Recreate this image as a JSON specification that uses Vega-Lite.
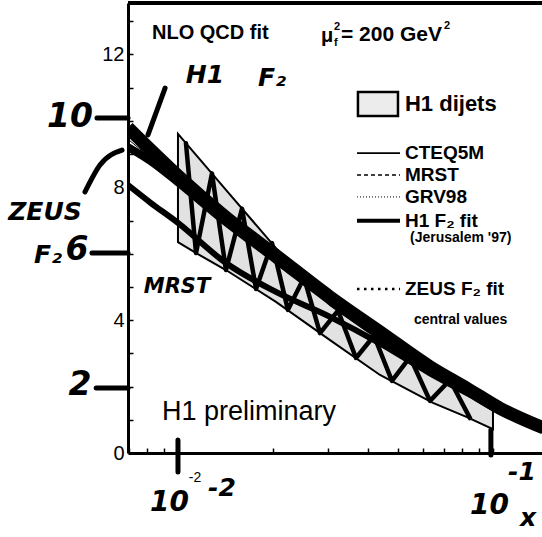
{
  "$schema": "https://vega.github.io/schema/vega-lite/v6.json",
  "width": 414,
  "height": 450,
  "autosize": "none",
  "padding": {"left": 128, "top": 3, "right": 0, "bottom": 84},
  "background": "white",
  "config": {"view": {"stroke": null}, "font": "Liberation Sans"},
  "datasets": {
    "curves": [
      {"series": "H1 F2 fit", "x": 0.00694, "y": 9.80}, {"series": "H1 F2 fit", "x": 0.00815, "y": 9.15}, {"series": "H1 F2 fit", "x": 0.01, "y": 8.35}, {"series": "H1 F2 fit", "x": 0.0142, "y": 7.10}, {"series": "H1 F2 fit", "x": 0.02047, "y": 5.95}, {"series": "H1 F2 fit", "x": 0.03039, "y": 4.70}, {"series": "H1 F2 fit", "x": 0.04379, "y": 3.65}, {"series": "H1 F2 fit", "x": 0.0631, "y": 2.60}, {"series": "H1 F2 fit", "x": 0.08267, "y": 1.95}, {"series": "H1 F2 fit", "x": 0.1052, "y": 1.35}, {"series": "H1 F2 fit", "x": 0.145, "y": 0.75},
      {"series": "ZEUS F2 fit", "x": 0.00694, "y": 9.21}, {"series": "ZEUS F2 fit", "x": 0.00815, "y": 8.80}, {"series": "ZEUS F2 fit", "x": 0.01, "y": 8.15}, {"series": "ZEUS F2 fit", "x": 0.0142, "y": 6.95}, {"series": "ZEUS F2 fit", "x": 0.02047, "y": 5.82}, {"series": "ZEUS F2 fit", "x": 0.03039, "y": 4.58}, {"series": "ZEUS F2 fit", "x": 0.04379, "y": 3.53}, {"series": "ZEUS F2 fit", "x": 0.0631, "y": 2.52}, {"series": "ZEUS F2 fit", "x": 0.08267, "y": 1.88}, {"series": "ZEUS F2 fit", "x": 0.1052, "y": 1.30}, {"series": "ZEUS F2 fit", "x": 0.145, "y": 0.70},
      {"series": "MRS lower", "x": 0.00694, "y": 8.07}, {"series": "MRS lower", "x": 0.00815, "y": 7.55}, {"series": "MRS lower", "x": 0.01, "y": 6.93}, {"series": "MRS lower", "x": 0.0142, "y": 5.72}, {"series": "MRS lower", "x": 0.02047, "y": 4.85}, {"series": "MRS lower", "x": 0.03039, "y": 4.10}, {"series": "MRS lower", "x": 0.04379, "y": 3.30}, {"series": "MRS lower", "x": 0.0631, "y": 2.40}, {"series": "MRS lower", "x": 0.08267, "y": 1.80}, {"series": "MRS lower", "x": 0.1052, "y": 1.25}, {"series": "MRS lower", "x": 0.145, "y": 0.68},
      {"series": "CTEQ5M", "x": 0.00694, "y": 9.60}, {"series": "CTEQ5M", "x": 0.00815, "y": 9.00}, {"series": "CTEQ5M", "x": 0.01, "y": 8.25}, {"series": "CTEQ5M", "x": 0.0142, "y": 7.00}, {"series": "CTEQ5M", "x": 0.02047, "y": 5.85}, {"series": "CTEQ5M", "x": 0.03039, "y": 4.62}, {"series": "CTEQ5M", "x": 0.04379, "y": 3.58}, {"series": "CTEQ5M", "x": 0.0631, "y": 2.55}, {"series": "CTEQ5M", "x": 0.08267, "y": 1.90}, {"series": "CTEQ5M", "x": 0.1052, "y": 1.32}, {"series": "CTEQ5M", "x": 0.145, "y": 0.72},
      {"series": "MRST", "x": 0.00694, "y": 9.70}, {"series": "MRST", "x": 0.00815, "y": 9.05}, {"series": "MRST", "x": 0.01, "y": 8.30}, {"series": "MRST", "x": 0.0142, "y": 7.05}, {"series": "MRST", "x": 0.02047, "y": 5.90}, {"series": "MRST", "x": 0.03039, "y": 4.66}, {"series": "MRST", "x": 0.04379, "y": 3.60}, {"series": "MRST", "x": 0.0631, "y": 2.57}, {"series": "MRST", "x": 0.08267, "y": 1.92}, {"series": "MRST", "x": 0.1052, "y": 1.33}, {"series": "MRST", "x": 0.145, "y": 0.73},
      {"series": "GRV98", "x": 0.00694, "y": 9.45}, {"series": "GRV98", "x": 0.00815, "y": 8.90}, {"series": "GRV98", "x": 0.01, "y": 8.20}, {"series": "GRV98", "x": 0.0142, "y": 6.98}, {"series": "GRV98", "x": 0.02047, "y": 5.80}, {"series": "GRV98", "x": 0.03039, "y": 4.55}, {"series": "GRV98", "x": 0.04379, "y": 3.50}, {"series": "GRV98", "x": 0.0631, "y": 2.50}, {"series": "GRV98", "x": 0.08267, "y": 1.86}, {"series": "GRV98", "x": 0.1052, "y": 1.28}, {"series": "GRV98", "x": 0.145, "y": 0.69}
    ],
    "dijets": [
      {"x": 0.01, "y": 9.61, "y2": 6.35},
      {"x": 0.01157, "y": 8.91, "y2": 5.99},
      {"x": 0.0142, "y": 7.92, "y2": 5.51},
      {"x": 0.02047, "y": 6.17, "y2": 4.55},
      {"x": 0.03039, "y": 4.46, "y2": 3.40},
      {"x": 0.04379, "y": 3.40, "y2": 2.35},
      {"x": 0.06449, "y": 2.50, "y2": 1.51},
      {"x": 0.08267, "y": 1.90, "y2": 1.08},
      {"x": 0.1, "y": 1.45, "y2": 0.72}
    ],
    "hatch": [
      {"x": 0.0106, "y": 9.33}, {"x": 0.01141, "y": 6.02}, {"x": 0.01282, "y": 8.42}, {"x": 0.0142, "y": 5.51},
      {"x": 0.01597, "y": 7.36}, {"x": 0.01769, "y": 4.94}, {"x": 0.01988, "y": 6.32}, {"x": 0.02234, "y": 4.31},
      {"x": 0.02512, "y": 5.28}, {"x": 0.02824, "y": 3.61}, {"x": 0.03221, "y": 4.29}, {"x": 0.03674, "y": 2.86},
      {"x": 0.04191, "y": 3.53}, {"x": 0.04778, "y": 2.17}, {"x": 0.05452, "y": 2.89}, {"x": 0.0631, "y": 1.57},
      {"x": 0.07302, "y": 2.2}, {"x": 0.08453, "y": 1.05}
    ],
    "frame": [{"x": 0.00694, "x2": 0.1431, "y": 13.55}],
    "legendlines": [
      {"series": "CTEQ5M", "x": 0.03701, "y": 9.03}, {"series": "CTEQ5M", "x": 0.05069, "y": 9.03},
      {"series": "MRST", "x": 0.03701, "y": 8.37}, {"series": "MRST", "x": 0.05069, "y": 8.37},
      {"series": "GRV98", "x": 0.03701, "y": 7.71}, {"series": "GRV98", "x": 0.05069, "y": 7.71},
      {"series": "H1 F2 fit", "x": 0.03701, "y": 6.99}, {"series": "H1 F2 fit", "x": 0.05069, "y": 6.99},
      {"series": "ZEUS F2 fit", "x": 0.03701, "y": 4.94}, {"series": "ZEUS F2 fit", "x": 0.05069, "y": 4.94}
    ],
    "legendbox": [{"x": 0.03727, "x2": 0.04994, "y": 10.87, "y2": 10.15}],
    "arrows": [
      {"id": "a10", "x": 0.005532, "y": 10.09}, {"id": "a10", "x": 0.00694, "y": 10.09},
      {"id": "a6", "x": 0.005333, "y": 6.02}, {"id": "a6", "x": 0.00694, "y": 6.02},
      {"id": "a2", "x": 0.0055, "y": 1.96}, {"id": "a2", "x": 0.00694, "y": 1.96},
      {"id": "zeus", "x": 0.005068, "y": 7.86}, {"id": "zeus", "x": 0.005655, "y": 8.67}, {"id": "zeus", "x": 0.006643, "y": 9.12},
      {"id": "h1", "x": 0.00803, "y": 9.58}, {"id": "h1", "x": 0.0091, "y": 10.99},
      {"id": "t1", "x": 0.01, "y": 0.39}, {"id": "t1", "x": 0.010001, "y": -0.57},
      {"id": "t2", "x": 0.0985, "y": 0.69}, {"id": "t2", "x": 0.098501, "y": -0.06}
    ],
    "labels": [
      {"kind": "header", "text": "NLO QCD fit", "x": 0.00827, "y": 12.65},
      {"kind": "header", "text": "μ", "x": 0.02844, "y": 12.55},
      {"kind": "header2", "text": "= 200 GeV", "x": 0.03293, "y": 12.59},
      {"kind": "sup", "text": "2", "x": 0.03129, "y": 12.84},
      {"kind": "sup", "text": "f", "x": 0.03129, "y": 12.36},
      {"kind": "sup", "text": "2", "x": 0.0699, "y": 12.85},
      {"kind": "legendbig", "text": "H1 dijets", "x": 0.05256, "y": 10.51},
      {"kind": "legend", "text": "CTEQ5M", "x": 0.05256, "y": 9.03},
      {"kind": "legend", "text": "MRST", "x": 0.05256, "y": 8.37},
      {"kind": "legend", "text": "GRV98", "x": 0.05256, "y": 7.71},
      {"kind": "legend", "text": "H1  F₂ fit", "x": 0.05256, "y": 6.99},
      {"kind": "legend", "text": "ZEUS  F₂ fit", "x": 0.05256, "y": 4.94},
      {"kind": "small", "text": "(Jerusalem '97)", "x": 0.05452, "y": 6.47},
      {"kind": "small", "text": "central values", "x": 0.05613, "y": 4.0},
      {"kind": "prelim", "text": "H1 preliminary", "x": 0.0089, "y": 1.23},
      {"kind": "handbig", "text": "10", "x": 0.004541, "y": 10.12},
      {"kind": "handbig", "text": "6", "x": 0.004779, "y": 6.11},
      {"kind": "handbig", "text": "2", "x": 0.004885, "y": 2.05},
      {"kind": "handbottom", "text": "10", "x": 0.0094, "y": -1.5},
      {"kind": "handbottom", "text": "10", "x": 0.0975, "y": -1.6},
      {"kind": "handmid", "text": "ZEUS", "x": 0.003783, "y": 7.26},
      {"kind": "handmid", "text": "F₂", "x": 0.003867, "y": 5.96},
      {"kind": "handmid", "text": "H1", "x": 0.01218, "y": 11.38},
      {"kind": "handmid", "text": "F₂", "x": 0.01988, "y": 11.29},
      {"kind": "handsmall", "text": "MRST", "x": 0.00993, "y": 5.0},
      {"kind": "handmid", "text": "-2", "x": 0.01379, "y": -1.05},
      {"kind": "handmid", "text": "-1", "x": 0.1236, "y": -0.57},
      {"kind": "handmid", "text": "x", "x": 0.1292, "y": -1.96},
      {"kind": "tiny", "text": "-2", "x": 0.01132, "y": -0.75}
    ]
  },
  "encoding": {
    "x": {
      "field": "x", "type": "quantitative",
      "scale": {"type": "log", "domain": [0.00694, 0.1431], "nice": false},
      "axis": {
        "title": null, "labels": false, "grid": false,
        "values": [0.007, 0.008, 0.009, 0.01, 0.02, 0.03, 0.04, 0.05, 0.06, 0.07, 0.08, 0.09, 0.1],
        "tickSize": -5, "tickWidth": 1.5, "tickColor": "black",
        "domainColor": "black", "domainWidth": 3
      }
    },
    "y": {
      "field": "y", "type": "quantitative",
      "scale": {"domain": [0, 13.55], "nice": false, "zero": false},
      "axis": {
        "title": null, "grid": false, "format": "d",
        "values": [0, 0.5, 1, 1.5, 2, 2.5, 3, 3.5, 4, 4.5, 5, 5.5, 6, 6.5, 7, 7.5, 8, 8.5, 9, 9.5, 10, 10.5, 11, 11.5, 12, 12.5, 13, 13.5],
        "labelExpr": "datum.value % 4 === 0 ? format(datum.value, 'd') : ''",
        "tickSize": -5, "tickWidth": 1.5, "tickColor": "black",
        "domainColor": "black", "domainWidth": 3,
        "labelFont": "Liberation Sans", "labelFontSize": 20, "labelColor": "black", "labelPadding": 9
      }
    }
  },
  "layer": [
    {
      "data": {"name": "frame"},
      "mark": {"type": "rule", "color": "black", "strokeWidth": 4, "clip": false},
      "encoding": {"x2": {"field": "x2"}}
    },
    {
      "data": {"name": "dijets"},
      "mark": {"type": "area", "fill": "#e2e2e2", "stroke": "black", "strokeWidth": 2},
      "encoding": {"y2": {"field": "y2"}}
    },
    {
      "data": {"name": "curves"},
      "transform": [{"filter": "datum.series === 'MRS lower'"}],
      "mark": {"type": "line", "color": "black", "strokeWidth": 6, "interpolate": "monotone", "clip": true},
      "encoding": {}
    },
    {
      "data": {"name": "hatch"},
      "mark": {"type": "line", "color": "black", "strokeWidth": 4.5, "strokeJoin": "round", "strokeCap": "round"},
      "encoding": {}
    },
    {
      "data": {"name": "curves"},
      "transform": [{"filter": "datum.series === 'H1 F2 fit'"}],
      "mark": {"type": "line", "color": "black", "strokeWidth": 13, "interpolate": "monotone", "clip": true},
      "encoding": {}
    },
    {
      "data": {"name": "curves"},
      "transform": [{"filter": "datum.series === 'ZEUS F2 fit'"}],
      "mark": {"type": "line", "color": "black", "strokeWidth": 8, "interpolate": "monotone", "clip": true},
      "encoding": {}
    },
    {
      "data": {"name": "curves"},
      "transform": [{"filter": "datum.series === 'CTEQ5M' || datum.series === 'MRST' || datum.series === 'GRV98'"}],
      "mark": {"type": "line", "color": "black", "strokeWidth": 1, "interpolate": "monotone", "clip": true},
      "encoding": {"detail": {"field": "series"}}
    },
    {
      "data": {"name": "legendbox"},
      "mark": {"type": "rect", "fill": "#ececec", "stroke": "black", "strokeWidth": 2.5},
      "encoding": {"x2": {"field": "x2"}, "y2": {"field": "y2"}}
    },
    {
      "data": {"name": "legendlines"},
      "transform": [{"filter": "datum.series === 'CTEQ5M'"}],
      "mark": {"type": "line", "color": "black", "strokeWidth": 1.8},
      "encoding": {}
    },
    {
      "data": {"name": "legendlines"},
      "transform": [{"filter": "datum.series === 'MRST'"}],
      "mark": {"type": "line", "color": "black", "strokeWidth": 1.5, "strokeDash": [4, 3]},
      "encoding": {}
    },
    {
      "data": {"name": "legendlines"},
      "transform": [{"filter": "datum.series === 'GRV98'"}],
      "mark": {"type": "line", "color": "black", "strokeWidth": 1, "strokeDash": [1, 2]},
      "encoding": {}
    },
    {
      "data": {"name": "legendlines"},
      "transform": [{"filter": "datum.series === 'H1 F2 fit'"}],
      "mark": {"type": "line", "color": "black", "strokeWidth": 4},
      "encoding": {}
    },
    {
      "data": {"name": "legendlines"},
      "transform": [{"filter": "datum.series === 'ZEUS F2 fit'"}],
      "mark": {"type": "line", "color": "black", "strokeWidth": 2.5, "strokeDash": [2.5, 4.5]},
      "encoding": {}
    },
    {
      "data": {"name": "arrows"},
      "mark": {"type": "line", "color": "black", "strokeWidth": 5, "strokeCap": "round", "interpolate": "monotone", "clip": false},
      "encoding": {"detail": {"field": "id"}}
    },
    {
      "data": {"name": "labels"},
      "transform": [{"filter": "datum.kind === 'header'"}],
      "mark": {"type": "text", "font": "Liberation Sans", "fontWeight": "bold", "fontSize": 20, "align": "left", "baseline": "middle", "color": "black"},
      "encoding": {"text": {"field": "text"}}
    },
    {
      "data": {"name": "labels"},
      "transform": [{"filter": "datum.kind === 'header2'"}],
      "mark": {"type": "text", "font": "Liberation Sans", "fontWeight": "bold", "fontSize": 21, "align": "left", "baseline": "middle", "color": "black"},
      "encoding": {"text": {"field": "text"}}
    },
    {
      "data": {"name": "labels"},
      "transform": [{"filter": "datum.kind === 'sup'"}],
      "mark": {"type": "text", "font": "Liberation Sans", "fontWeight": "bold", "fontSize": 11, "align": "left", "baseline": "middle", "color": "black"},
      "encoding": {"text": {"field": "text"}}
    },
    {
      "data": {"name": "labels"},
      "transform": [{"filter": "datum.kind === 'legendbig'"}],
      "mark": {"type": "text", "font": "Liberation Sans", "fontWeight": "bold", "fontSize": 22, "align": "left", "baseline": "middle", "color": "black"},
      "encoding": {"text": {"field": "text"}}
    },
    {
      "data": {"name": "labels"},
      "transform": [{"filter": "datum.kind === 'legend'"}],
      "mark": {"type": "text", "font": "Liberation Sans", "fontWeight": "bold", "fontSize": 19, "align": "left", "baseline": "middle", "color": "black"},
      "encoding": {"text": {"field": "text"}}
    },
    {
      "data": {"name": "labels"},
      "transform": [{"filter": "datum.kind === 'small'"}],
      "mark": {"type": "text", "font": "Liberation Sans", "fontWeight": "bold", "fontSize": 14, "align": "left", "baseline": "middle", "color": "black"},
      "encoding": {"text": {"field": "text"}}
    },
    {
      "data": {"name": "labels"},
      "transform": [{"filter": "datum.kind === 'prelim'"}],
      "mark": {"type": "text", "font": "Liberation Sans", "fontSize": 27, "align": "left", "baseline": "middle", "color": "black"},
      "encoding": {"text": {"field": "text"}}
    },
    {
      "data": {"name": "labels"},
      "transform": [{"filter": "datum.kind === 'handbig'"}],
      "mark": {"type": "text", "font": "DejaVu Sans", "fontWeight": "bold", "fontStyle": "italic", "fontSize": 33, "align": "center", "baseline": "middle", "color": "black", "clip": false},
      "encoding": {"text": {"field": "text"}}
    },
    {
      "data": {"name": "labels"},
      "transform": [{"filter": "datum.kind === 'handbottom'"}],
      "mark": {"type": "text", "font": "DejaVu Sans", "fontWeight": "bold", "fontStyle": "italic", "fontSize": 28, "align": "center", "baseline": "middle", "color": "black", "clip": false},
      "encoding": {"text": {"field": "text"}}
    },
    {
      "data": {"name": "labels"},
      "transform": [{"filter": "datum.kind === 'handmid'"}],
      "mark": {"type": "text", "font": "DejaVu Sans", "fontWeight": "bold", "fontStyle": "italic", "fontSize": 25, "align": "center", "baseline": "middle", "color": "black", "clip": false},
      "encoding": {"text": {"field": "text"}}
    },
    {
      "data": {"name": "labels"},
      "transform": [{"filter": "datum.kind === 'handsmall'"}],
      "mark": {"type": "text", "font": "DejaVu Sans", "fontWeight": "bold", "fontStyle": "italic", "fontSize": 21, "align": "center", "baseline": "middle", "color": "black", "clip": false},
      "encoding": {"text": {"field": "text"}}
    },
    {
      "data": {"name": "labels"},
      "transform": [{"filter": "datum.kind === 'tiny'"}],
      "mark": {"type": "text", "font": "Liberation Sans", "fontSize": 14, "align": "center", "baseline": "middle", "color": "black"},
      "encoding": {"text": {"field": "text"}}
    }
  ]
}
